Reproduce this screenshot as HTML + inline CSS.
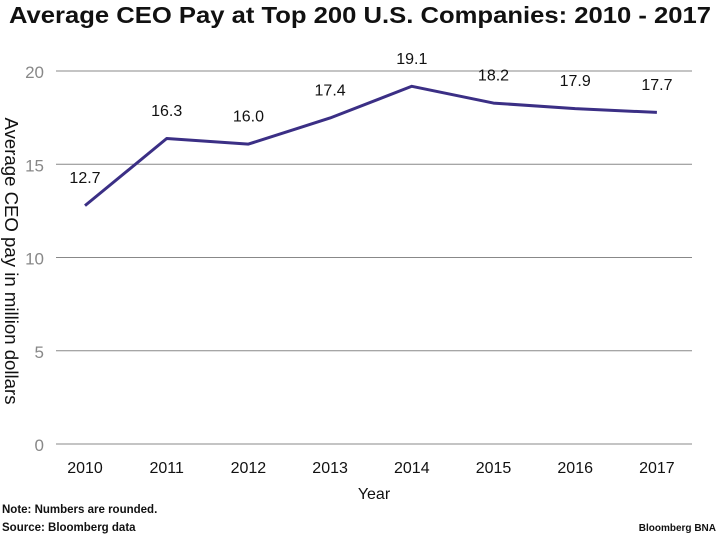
<!DOCTYPE html>
<html><head><meta charset="utf-8"><style>
body{margin:0;background:#fff;width:720px;height:536px;overflow:hidden;font-family:"Liberation Sans",sans-serif}
</style></head><body>
<svg width="720" height="536" id="c" font-family="Liberation Sans, sans-serif">
<text x="360" y="23" text-anchor="middle" font-size="23" font-weight="bold" fill="#111" textLength="702" lengthAdjust="spacingAndGlyphs">Average CEO Pay at Top 200 U.S. Companies: 2010 - 2017</text>
<text transform="translate(5,261) rotate(90)" text-anchor="middle" font-size="18" fill="#111" textLength="287" lengthAdjust="spacingAndGlyphs">Average CEO pay in million dollars</text>
<text x="374" y="499" text-anchor="middle" font-size="16" fill="#111">Year</text>
<text x="2" y="513" font-size="11.5" font-weight="bold" fill="#111">Note: Numbers are rounded.</text>
<text x="2" y="531" font-size="11.5" font-weight="bold" fill="#111">Source: Bloomberg data</text>
<text x="716" y="531" text-anchor="end" font-size="10" font-weight="bold" fill="#111">Bloomberg BNA</text>
<g id="grid"></g><g id="marks"></g>
</svg>
<script>
const years=["2010","2011","2012","2013","2014","2015","2016","2017"];
const pay=[12.7,16.3,16.0,17.4,19.1,18.2,17.9,17.7];
const labels=["12.7","16.3","16.0","17.4","19.1","18.2","17.9","17.7"];
const yTicks=[0,5,10,15,20];
const NS="http://www.w3.org/2000/svg";
const x=i=>85+i*81.7;
const y=v=>444-v*18.65;
function mk(t,a,p){const e=document.createElementNS(NS,t);for(const k in a)e.setAttribute(k,a[k]);p.appendChild(e);return e;}
const g=document.getElementById('grid'),m=document.getElementById('marks');
yTicks.forEach(v=>{
 const l=mk('line',{x1:56,x2:692,y1:y(v),y2:y(v),stroke:'#888','stroke-width':1},g);
 
 
 const t=mk('text',{x:44,y:y(v)+7,'text-anchor':'end','font-size':17,fill:'#888'},g);t.textContent=v;
 
 
});
years.forEach((yr,i)=>{
 const t=mk('text',{x:x(i),y:473,'text-anchor':'middle','font-size':16,fill:'#111'},g);t.textContent=yr;
 
 
});
const pl=mk('polyline',{points:pay.map((v,i)=>x(i)+','+(y(v)-1.5)).join(' '),fill:'none',stroke:'#3b2f85','stroke-width':3,'stroke-linejoin':'round'},m);


pay.forEach((v,i)=>{
 const t=mk('text',{x:x(i),y:y(v)-24,'text-anchor':'middle','font-size':16,fill:'#111'},m);t.textContent=labels[i];
 
 
});
</script>
</body></html>
